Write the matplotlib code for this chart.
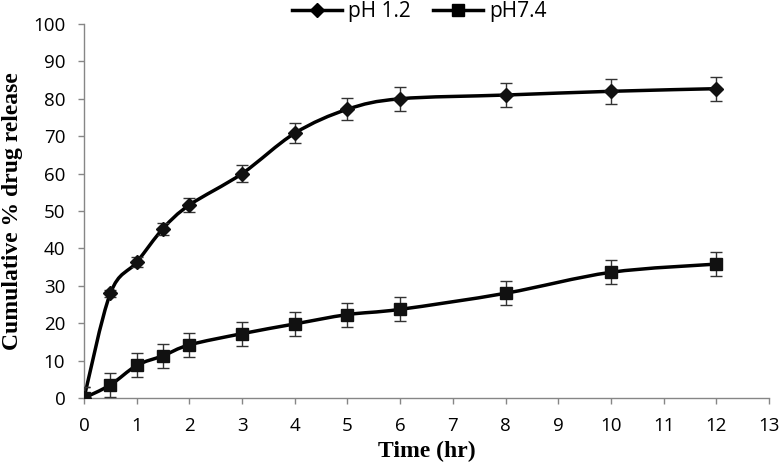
import numpy as np
import matplotlib
matplotlib.use("Agg")
import matplotlib.pyplot as plt
from matplotlib.path import Path
from matplotlib.patches import PathPatch
from matplotlib.lines import Line2D

# ---- data ----
time_hr = [0, 0.5, 1, 1.5, 2, 3, 4, 5, 6, 8, 10, 12]
ph12 = [0, 28.0, 36.3, 45.3, 51.6, 60.0, 70.8, 77.2, 80.0, 81.0, 82.0, 82.7]
ph12_err = [3.0, 1.0, 1.3, 1.6, 2.0, 2.3, 2.7, 3.0, 3.2, 3.3, 3.3, 3.2]
ph74 = [0, 3.5, 8.7, 11.3, 14.2, 17.2, 19.8, 22.3, 23.7, 28.0, 33.6, 35.8]
ph74_err = [3.0, 3.3, 3.2, 3.2, 3.2, 3.2, 3.2, 3.2, 3.2, 3.2, 3.2, 3.2]

xticks = list(range(0, 14))
yticks = list(range(0, 101, 10))

grey = "#868686"


def smooth_path(x, y, k=1 / 6.0):
    # Excel-style smoothed line: cubic bezier through the points
    x = np.asarray(x, float)
    y = np.asarray(y, float)
    verts = [(x[0], y[0])]
    codes = [Path.MOVETO]
    n = len(x)
    for i in range(n - 1):
        x0, y0 = (x[i - 1], y[i - 1]) if i > 0 else (x[i], y[i])
        x3, y3 = (x[i + 2], y[i + 2]) if i + 2 < n else (x[i + 1], y[i + 1])
        c1 = (x[i] + (x[i + 1] - x0) * k, y[i] + (y[i + 1] - y0) * k)
        c2 = (x[i + 1] - (x3 - x[i]) * k, y[i + 1] - (y3 - y[i]) * k)
        verts += [c1, c2, (x[i + 1], y[i + 1])]
        codes += [Path.CURVE4] * 3
    return Path(verts, codes)


fig = plt.figure(figsize=(7.81, 4.73), dpi=100)
ax = fig.add_axes([0.1076, 0.1586, 0.877, 0.7907])

for ys, err, mk, ms in [(ph12, ph12_err, "D", 7), (ph74, ph74_err, "s", 9)]:
    ax.add_patch(PathPatch(smooth_path(time_hr, ys), facecolor="none",
                           edgecolor="black", linewidth=2.5, zorder=2))
    ax.errorbar(time_hr, ys, yerr=err, fmt="none", ecolor="#333333",
                elinewidth=1, capsize=4, capthick=1, zorder=3)
    ax.plot(time_hr, ys, linestyle="none", marker=mk, markersize=ms,
            color="#111111", zorder=4)

ax.set_xlim(0, 13)
ax.set_ylim(0, 100)
ax.set_xticks(xticks)
ax.set_yticks(yticks)
for s in ["top", "right"]:
    ax.spines[s].set_visible(False)
for s in ["left", "bottom"]:
    ax.spines[s].set_color(grey)
    ax.spines[s].set_linewidth(1)
ax.tick_params(axis="both", colors=grey, length=4.5, width=1, direction="out",
               labelcolor="black", labelsize=13.5)
for lab in ax.get_xticklabels() + ax.get_yticklabels():
    lab.set_family("Open Sans")
ax.tick_params(axis="x", pad=9.5)
ax.tick_params(axis="y", pad=9)

ax.set_xlabel("Time (hr)", fontfamily="Liberation Serif", fontweight="bold",
              fontsize=17, labelpad=4)
ax.set_ylabel("Cumulative % drug release", fontfamily="Liberation Serif",
              fontweight="bold", fontsize=17, labelpad=7)

handles = [
    Line2D([], [], color="black", linewidth=2.5, marker="D", markersize=7),
    Line2D([], [], color="black", linewidth=2.5, marker="s", markersize=9),
]
fig.legend(handles, ["pH 1.2", "pH7.4"], loc="center", bbox_to_anchor=(0.537, 0.976),
           ncol=2, frameon=False, prop={"family": "Open Sans", "size": 15},
           handlelength=2.4, handletextpad=0.3, columnspacing=1.1,
           borderpad=0)

plt.savefig("out.png", dpi=100)
